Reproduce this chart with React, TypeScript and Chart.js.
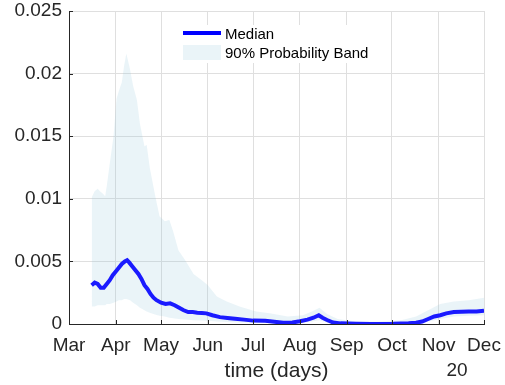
import React, { useEffect, useRef } from 'react';
import { Chart, registerables } from 'chart.js';

Chart.register(...registerables);

// ---- axis text ----
const monthLabels = ['Mar', 'Apr', 'May', 'Jun', 'Jul', 'Aug', 'Sep', 'Oct', 'Nov', 'Dec'];
const monthStartDays = [0, 31, 61, 92, 122, 153, 184, 214, 245, 275];
const yTickValues = [0, 0.005, 0.01, 0.015, 0.02, 0.025];
const yTickLabels = ['0', '0.005', '0.01', '0.015', '0.02', '0.025'];
const xTitle = 'time (days)';
const yearLabel = '20';
const legendLabels = ['Median', '90% Probability Band'];

// ---- median series (days since Mar 1) ----
const medianDays = [
  15, 17, 19, 21, 23, 25, 27, 29, 31, 33, 35, 37, 38.5, 40, 42, 44, 46, 48, 50, 52, 54, 56, 58,
  61, 64, 67, 70, 73, 76, 79, 82, 85, 88, 91, 95, 100, 105, 110, 116, 122, 130, 136, 142, 148,
  153, 158, 162, 165.5, 168, 171, 175, 180, 190, 200, 215, 225, 230, 234, 238, 242, 246, 250,
  255, 260, 265, 270, 275,
];
const medianValues = [
  0.0031, 0.0033, 0.0032, 0.0029, 0.0029, 0.0032, 0.0035, 0.0039, 0.0042, 0.0045, 0.0048, 0.005,
  0.0051, 0.0049, 0.0046, 0.0043, 0.004, 0.0036, 0.0031, 0.0028, 0.0024, 0.0021, 0.0019,
  0.0017, 0.0016, 0.00165, 0.0015, 0.0013, 0.0011, 0.00095, 0.00095, 0.0009, 0.00088, 0.00085,
  0.0007, 0.00055, 0.00048, 0.00042, 0.00035, 0.00027, 0.00025, 0.00018, 0.0001, 0.00012,
  0.00022, 0.00035, 0.0005, 0.0007, 0.0005, 0.00032, 0.00012, 0.00005, 0.00002, 0.0, 0.00002,
  0.00006, 0.0001, 0.0002, 0.0004, 0.0006, 0.0007, 0.00085, 0.00095, 0.00098, 0.001, 0.001,
  0.00105,
];

// ---- 90% probability band ----
const bandDays = [
  15, 17, 19, 20.5, 22.5, 24, 25, 27, 29.5, 31.5, 33, 35, 36.5, 38, 40.5, 42.5, 45, 47, 50,
  51.5, 53.5, 57, 60, 63.5, 66.5, 69, 72.5, 77, 82.5, 88, 92, 98, 104.5, 113, 124, 133, 145,
  155, 161, 166, 171, 178, 190, 205, 220, 230, 238, 246, 255, 265, 275,
];
const bandUpper = [
  0.0101, 0.0106, 0.0108, 0.0106, 0.0104, 0.0102, 0.011, 0.0128, 0.015, 0.018, 0.0186, 0.0193,
  0.0206, 0.0216, 0.0203, 0.019, 0.0179, 0.016, 0.0142, 0.0143, 0.0125, 0.0103, 0.0086, 0.0082,
  0.0083, 0.0074, 0.0059, 0.0051, 0.004, 0.0035, 0.0031, 0.0022, 0.0018, 0.0014, 0.001,
  0.00085, 0.0006, 0.0007, 0.001, 0.0013, 0.0008, 0.0004, 0.0002, 0.0002, 0.0003, 0.0006,
  0.0011, 0.0016, 0.0018, 0.0019, 0.0021,
];
const bandLower = [
  0.0014, 0.0014, 0.0015, 0.0015, 0.0015, 0.0015, 0.0016, 0.0016, 0.0017, 0.0018, 0.0019,
  0.0019, 0.002, 0.002, 0.0019, 0.0017, 0.0015, 0.0013, 0.0011, 0.001, 0.0009, 0.00075,
  0.00065, 0.0006, 0.0005, 0.00045, 0.0004, 0.00035, 0.0003, 0.00028, 0.00025, 0.0002,
  0.00015, 0.00012, 0.0001, 0.00008, 0.00004, 0.0001, 0.0002, 0.0003, 0.0001, 0.00002, 0, 0,
  0, 0.00005, 0.0002, 0.0004, 0.0006, 0.00065, 0.0007,
];

const FONT = '"Liberation Sans", Arial, Helvetica, sans-serif';
const TEXT = '#262626';
const BLUE = 'rgb(26,26,255)';
const BAND = 'rgba(150,200,220,0.2)';
const GRID = '#dfdfdf';

const overlayPlugin = {
  id: 'overlay',
  afterDatasetsDraw(chart: any) {
    const { ctx, chartArea, scales } = chart;
    const xs = scales.x;
    const ys = scales.y;
    ctx.save();
    // inward tick marks
    ctx.strokeStyle = TEXT;
    ctx.lineWidth = 1;
    ctx.beginPath();
    monthStartDays.forEach((d) => {
      const px = Math.round(xs.getPixelForValue(d)) + 0.5;
      ctx.moveTo(px, chartArea.bottom);
      ctx.lineTo(px, chartArea.bottom - 4);
    });
    yTickValues.forEach((v) => {
      const py = Math.round(ys.getPixelForValue(v)) + 0.5;
      ctx.moveTo(chartArea.left, py);
      ctx.lineTo(chartArea.left + 4, py);
    });
    ctx.stroke();

    // axis title and year label
    ctx.fillStyle = TEXT;
    ctx.textBaseline = 'alphabetic';
    ctx.textAlign = 'center';
    ctx.font = `21px ${FONT}`;
    ctx.fillText(xTitle, (chartArea.left + chartArea.right) / 2, 377);
    ctx.font = `19px ${FONT}`;
    ctx.fillText(yearLabel, xs.getPixelForValue(monthStartDays[monthStartDays.length - 1]) - 27, 376);

    // legend
    ctx.fillStyle = '#ffffff';
    ctx.fillRect(177, 25, 199, 38);
    ctx.strokeStyle = 'rgb(0,0,255)';
    ctx.lineWidth = 4;
    ctx.beginPath();
    ctx.moveTo(183, 33);
    ctx.lineTo(221, 33);
    ctx.stroke();
    ctx.fillStyle = BAND;
    ctx.fillRect(183, 45, 38, 15);
    ctx.fillStyle = '#000';
    ctx.textAlign = 'left';
    ctx.font = `15px ${FONT}`;
    ctx.fillText(legendLabels[0], 225, 39);
    ctx.fillText(legendLabels[1], 225, 57.5);
    ctx.restore();
  },
};

export default function App() {
  const ref = useRef<HTMLCanvasElement>(null);

  useEffect(() => {
    const canvas = ref.current;
    if (!canvas) return;
    const chart = new Chart(canvas, {
      type: 'line',
      data: {
        datasets: [
          {
            label: legendLabels[0],
            data: medianDays.map((d, i) => ({ x: d, y: medianValues[i] })),
            borderColor: BLUE,
            borderWidth: 4,
            pointRadius: 0,
            tension: 0,
            fill: false,
          },
          {
            label: legendLabels[1],
            data: bandDays.map((d, i) => ({ x: d, y: bandUpper[i] })),
            borderWidth: 0,
            borderColor: 'rgba(0,0,0,0)',
            backgroundColor: BAND,
            pointRadius: 0,
            tension: 0,
            fill: { target: 2 },
          },
          {
            label: 'lower',
            data: bandDays.map((d, i) => ({ x: d, y: bandLower[i] })),
            borderWidth: 0,
            borderColor: 'rgba(0,0,0,0)',
            pointRadius: 0,
            tension: 0,
            fill: false,
          },
        ],
      },
      options: {
        responsive: false,
        animation: false,
        devicePixelRatio: 1,
        events: [],
        layout: { padding: { top: 11, right: 21, left: 0, bottom: 0 } },
        plugins: {
          legend: { display: false },
          tooltip: { enabled: false },
        },
        scales: {
          x: {
            type: 'linear',
            min: 0,
            max: 275,
            afterBuildTicks: (s: any) => {
              s.ticks = monthStartDays.map((v) => ({ value: v }));
            },
            afterFit: (s: any) => {
              s.height = 61;
              s.paddingLeft = 0;
              s.paddingRight = 0;
              s.paddingTop = 0;
              s.paddingBottom = 0;
            },
            ticks: {
              autoSkip: false,
              maxRotation: 0,
              padding: 10,
              color: TEXT,
              font: { family: FONT, size: 19 },
              callback: (_v: any, i: number) => monthLabels[i],
            },
            grid: { color: GRID, lineWidth: 1, drawTicks: false },
            border: { display: true, color: TEXT, width: 1 },
          },
          y: {
            type: 'linear',
            min: 0,
            max: 0.025,
            afterBuildTicks: (s: any) => {
              s.ticks = yTickValues.map((v) => ({ value: v }));
            },
            afterFit: (s: any) => {
              s.width = 69;
              s.paddingLeft = 0;
              s.paddingRight = 0;
              s.paddingTop = 0;
              s.paddingBottom = 0;
            },
            ticks: {
              autoSkip: false,
              padding: 7,
              color: TEXT,
              font: { family: FONT, size: 19 },
              callback: (_v: any, i: number) => yTickLabels[i],
            },
            grid: { color: GRID, lineWidth: 1, drawTicks: false },
            border: { display: true, color: TEXT, width: 1 },
          },
        },
      },
      plugins: [overlayPlugin],
    });
    return () => chart.destroy();
  }, []);

  return (
    <div style={{ position: 'absolute', left: 0, top: 0, width: 505, height: 385, background: '#fff' }}>
      <canvas ref={ref} width={505} height={385} style={{ display: 'block', width: 505, height: 385 }} />
    </div>
  );
}
